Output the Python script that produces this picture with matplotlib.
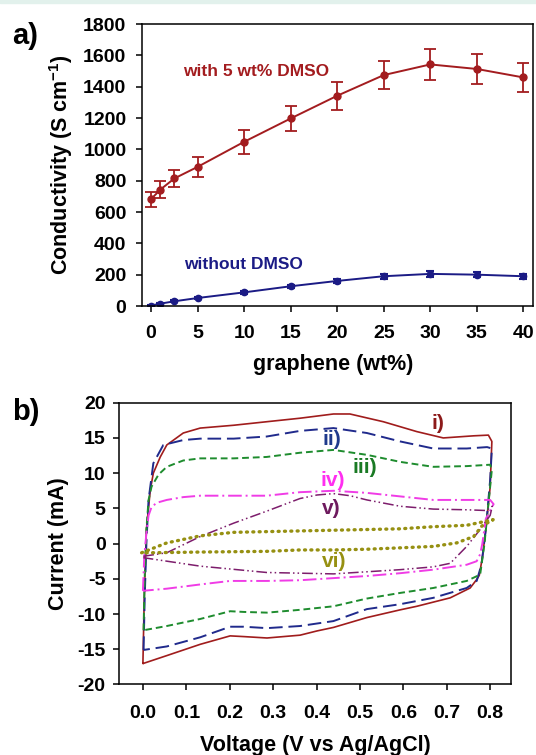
import matplotlib
matplotlib.use("Agg")
import matplotlib.pyplot as plt
from matplotlib.patches import Rectangle

plt.rcParams['font.family'] = ['Liberation Sans', 'DejaVu Sans']
plt.rcParams['font.weight'] = 'bold'
plt.rcParams['axes.labelweight'] = 'bold'
plt.rcParams['axes.unicode_minus'] = False
plt.rcParams['mathtext.fontset'] = 'custom'
plt.rcParams['mathtext.rm'] = 'Liberation Sans:bold'
plt.rcParams['mathtext.bf'] = 'Liberation Sans:bold'

# ---- panel a) data ----
graphene = [0, 1, 2.5, 5, 10, 15, 20, 25, 30, 35, 40]
cond_dmso = [682, 743, 814, 888, 1048, 1197, 1342, 1474, 1542, 1513, 1459]
err_dmso = [47, 54, 55, 62, 76, 82, 88, 91, 100, 97, 92]
cond_plain = [3, 15, 30, 51, 87, 126, 160, 190, 205, 200, 190]
err_plain = [3, 5, 6, 7, 9, 11, 14, 16, 20, 17, 16]

# ---- panel b) data: each loop = anodic (left->right) + cathodic (right->left) ----
v_i = [0.0, 0.003, 0.008, 0.017, 0.024, 0.040, 0.055, 0.093, 0.132, 0.209, 0.285,
       0.362, 0.439, 0.477, 0.554, 0.631, 0.692, 0.762, 0.796, 0.804,
       0.800, 0.790, 0.782, 0.775, 0.769, 0.754, 0.708, 0.631, 0.593, 0.516,
       0.439, 0.401, 0.362, 0.286, 0.232, 0.201, 0.132, 0.055, 0.0015]
i_i = [-17.0, -8.0, 2.0, 7.6, 10.0, 12.3, 14.0, 15.7, 16.4, 16.8, 17.3,
       17.8, 18.4, 18.4, 17.3, 15.9, 15.0, 15.3, 15.4, 14.5,
       8.0, 2.0, -2.0, -4.5, -5.1, -6.3, -7.7, -8.9, -9.4, -10.5,
       -11.9, -12.4, -13.0, -13.4, -13.2, -13.1, -14.3, -15.9, -17.0]

v_ii = [0.0015, 0.004, 0.008, 0.013, 0.024, 0.047, 0.093, 0.132, 0.209, 0.285,
        0.362, 0.439, 0.516, 0.593, 0.669, 0.746, 0.793, 0.804,
        0.800, 0.790, 0.780, 0.769, 0.746, 0.669, 0.593, 0.516, 0.439,
        0.362, 0.286, 0.232, 0.201, 0.132, 0.055, 0.0015]
i_ii = [-15.1, -8.0, 0.0, 6.2, 11.4, 14.0, 14.7, 14.9, 14.9, 15.2,
        16.0, 16.4, 15.7, 14.5, 13.5, 13.5, 13.7, 13.5,
        9.0, 2.0, -3.0, -5.3, -6.3, -7.7, -8.6, -9.3, -11.0,
        -11.7, -12.0, -11.8, -11.8, -13.3, -14.6, -15.1]

v_iii = [0.0015, 0.004, 0.008, 0.013, 0.020, 0.036, 0.055, 0.093, 0.132, 0.209,
         0.285, 0.362, 0.439, 0.516, 0.593, 0.669, 0.746, 0.800, 0.804,
         0.795, 0.787, 0.777, 0.746, 0.669, 0.593, 0.516, 0.439, 0.362,
         0.286, 0.232, 0.201, 0.132, 0.055, 0.0015]
i_iii = [-12.3, -5.0, 2.0, 6.2, 8.1, 9.8, 10.9, 11.8, 12.1, 12.1,
         12.3, 12.9, 13.3, 12.6, 11.6, 10.9, 11.0, 11.2, 10.5,
         5.0, 0.0, -4.4, -5.3, -6.3, -7.0, -7.8, -8.9, -9.4,
         -9.8, -9.7, -9.6, -10.7, -11.7, -12.3]

v_iv = [0.0, 0.003, 0.008, 0.013, 0.020, 0.032, 0.055, 0.093, 0.132, 0.209,
        0.285, 0.362, 0.439, 0.516, 0.593, 0.669, 0.746, 0.793, 0.800, 0.808,
        0.790, 0.782, 0.777, 0.769, 0.746, 0.669, 0.593, 0.516, 0.439,
        0.362, 0.286, 0.201, 0.132, 0.055, 0.0]
i_iv = [-6.7, -2.0, 1.5, 4.0, 5.2, 5.8, 6.2, 6.6, 6.8, 6.8,
        6.8, 7.3, 7.5, 7.2, 6.7, 6.2, 6.2, 6.2, 6.2, 5.6,
        3.5, 0.0, -1.5, -2.5, -3.0, -3.7, -4.2, -4.6, -4.9,
        -5.2, -5.3, -5.3, -5.8, -6.4, -6.7]

v_v = [0.001, 0.055, 0.132, 0.209, 0.285, 0.362, 0.401, 0.439, 0.477, 0.516,
       0.593, 0.669, 0.746, 0.790, 0.805,
       0.800, 0.777, 0.746, 0.708, 0.669, 0.593, 0.516, 0.439, 0.362,
       0.285, 0.132, 0.001]
i_v = [-1.8, -1.3, 1.0, 2.9, 4.6, 6.4, 6.9, 7.1, 6.8, 6.2,
       5.3, 4.9, 4.8, 4.7, 5.3,
       4.0, 2.0, -0.4, -2.8, -3.3, -3.7, -4.0, -4.3, -4.2,
       -4.1, -3.2, -2.0]

v_vi = [-0.003, 0.055, 0.132, 0.209, 0.285, 0.362, 0.439, 0.516, 0.593, 0.669,
        0.746, 0.792, 0.807,
        0.781, 0.762, 0.723, 0.669, 0.593, 0.516, 0.439, 0.362, 0.285,
        0.132, 0.017, -0.003]
i_vi = [-1.3, 0.1, 1.1, 1.6, 1.7, 1.8, 1.9, 2.0, 2.1, 2.4,
        2.6, 3.2, 3.4,
        2.5, 1.0, 0.1, -0.4, -0.6, -0.8, -0.9, -0.9, -1.1,
        -1.2, -1.3, -1.3]

RED = '#a31c1f'
NAVY = '#1b1b85'

fig = plt.figure(figsize=(5.36, 7.55), dpi=100)
fig.patches.append(Rectangle((0, 1 - 3 / 755), 1, 3 / 755, transform=fig.transFigure,
                             color='#e2f1ec', zorder=-1))

# ---------------- panel a ----------------
ax1 = fig.add_axes([0.2644, 0.5947, 0.7306, 0.3735])
ax1.errorbar(graphene, cond_dmso, yerr=err_dmso, color=RED, marker='o', ms=5,
             lw=1.4, elinewidth=1.3, capsize=4, capthick=1.3)
ax1.errorbar(graphene, cond_plain, yerr=err_plain, color=NAVY, marker='o', ms=4.5,
             lw=1.4, elinewidth=2, capsize=3, capthick=1.5)
ax1.set_xlim(-1.0, 41.07)
ax1.set_ylim(0, 1800)
ax1.set_xticks([0, 5, 10, 15, 20, 25, 30, 35, 40])
ax1.set_yticks(range(0, 1801, 200))
ax1.text(3.4, 1494, 'with 5 wt% DMSO', color=RED, fontsize=12.5, va='center')
ax1.text(3.6, 262, 'without DMSO', color=NAVY, fontsize=12.5, va='center')
ax1.set_xlabel('graphene (wt%)', fontsize=15.5)
ax1.set_ylabel(r'Conductivity (S cm$^{-1}$)', fontsize=15.5)
ax1.xaxis.set_label_coords(0.49, -0.209)
ax1.xaxis.label.set_va('center')
ax1.yaxis.set_label_coords(-0.206, 0.5)
ax1.yaxis.label.set_va('center')
ax1.tick_params(axis='x', labelsize=14, length=4, width=1.1, pad=9.5, direction='out')
ax1.tick_params(axis='y', labelsize=14, length=4, width=1.1, pad=7, direction='out')

# ---------------- panel b ----------------
ax2 = fig.add_axes([0.2229, 0.0934, 0.7304, 0.3732])
ax2.plot(v_i, i_i, color='#a01c1c', lw=1.2)
ax2.plot(v_ii, i_ii, color='#202a8c', lw=1.4, dashes=(7, 3))
ax2.plot(v_iii, i_iii, color='#1e8c2e', lw=1.4, dashes=(3.5, 2))
ax2.plot(v_iv, i_iv, color='#f03ce6', lw=1.4, dashes=(7, 2, 1, 2))
ax2.plot(v_v, i_v, color='#7d1d6c', lw=1.1, dashes=(7, 2, 1, 2, 1, 2))
ax2.plot(v_vi, i_vi, color='#969012', lw=2.4, dashes=(0.3, 1.6),
         dash_capstyle='round')
ax2.set_xlim(-0.054, 0.848)
ax2.set_ylim(-20, 20)
ax2.set_xticks([0.0, 0.1, 0.2, 0.3, 0.4, 0.5, 0.6, 0.7, 0.8])
ax2.set_xticklabels(['0.0', '0.1', '0.2', '0.3', '0.4', '0.5', '0.6', '0.7', '0.8'])
ax2.set_yticks(range(-20, 21, 5))

ax2.text(0.68, 17.0, 'i)', color='#8c1a1a', fontsize=15, ha='center', va='center')
ax2.text(0.435, 14.8, 'ii)', color='#1f3a8c', fontsize=15, ha='center', va='center')
ax2.text(0.512, 10.8, 'iii)', color='#1a7a24', fontsize=15, ha='center', va='center')
ax2.text(0.438, 9.0, 'iv)', color='#ff2ef0', fontsize=15, ha='center', va='center')
ax2.text(0.433, 5.0, 'v)', color='#6e1a5e', fontsize=15, ha='center', va='center')
ax2.text(0.44, -2.5, 'vi)', color='#969012', fontsize=15, ha='center', va='center')

ax2.set_xlabel('Voltage (V vs Ag/AgCl)', fontsize=15.5)
ax2.set_ylabel('Current (mA)', fontsize=15.5)
ax2.xaxis.set_label_coords(0.501, -0.215)
ax2.xaxis.label.set_va('center')
ax2.yaxis.set_label_coords(-0.157, 0.5)
ax2.yaxis.label.set_va('center')
ax2.tick_params(axis='x', labelsize=14, length=4, width=1.1, pad=10.5, direction='out')
ax2.tick_params(axis='y', labelsize=14, length=4, width=1.1, pad=6, direction='out')

for ax in (ax1, ax2):
    for sp in ax.spines.values():
        sp.set_linewidth(1.1)

fig.text(0.0466, 0.952, 'a)', fontsize=21, ha='center', va='center')
fig.text(0.0485, 0.454, 'b)', fontsize=21, ha='center', va='center')

fig.savefig('out.png', dpi=100)
